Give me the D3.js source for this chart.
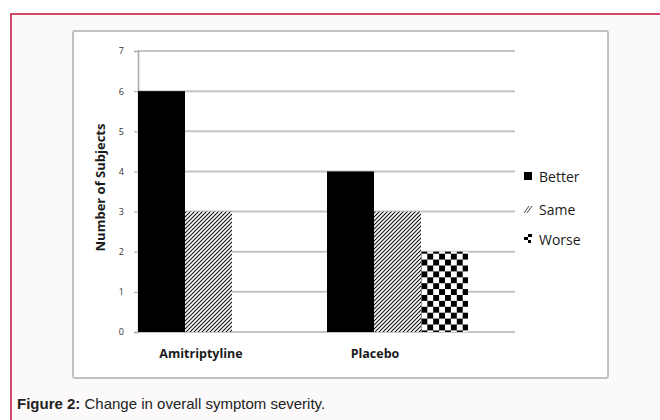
<!DOCTYPE html>
<html>
<head>
<meta charset="utf-8">
<script src="https://cdn.jsdelivr.net/npm/d3@7"></script>
<style>
  body { margin: 0; background: #fff; }
  svg { display: block; }
</style>
</head>
<body>
<svg id="chart" width="660" height="420"></svg>
<script>
// data
const groups = ["Amitriptyline", "Placebo"];
const series = ["Better", "Same", "Worse"];
const better = [6, 4];
const same = [3, 3];
const worse = [0, 2];
const yTicks = [0, 1, 2, 3, 4, 5, 6, 7];

const svg = d3.select("#chart");
const defs = svg.append("defs");

// hatch for "Same"
const hatch = defs.append("pattern")
    .attr("id", "hatch")
    .attr("patternUnits", "userSpaceOnUse")
    .attr("width", 4).attr("height", 4);
hatch.append("rect").attr("width", 4).attr("height", 4).attr("fill", "#fff");
hatch.append("path")
    .attr("d", "M-1,1 l2,-2 M0,4 l4,-4 M3,5 l2,-2")
    .attr("stroke", "#111").attr("stroke-width", 1.1);

// checkerboard for "Worse"
const cs = 5.9;
const checker = defs.append("pattern")
    .attr("id", "checker")
    .attr("patternUnits", "userSpaceOnUse")
    .attr("width", cs * 2).attr("height", cs * 2);
checker.append("rect").attr("width", cs * 2).attr("height", cs * 2).attr("fill", "#fff");
checker.append("rect").attr("width", cs).attr("height", cs).attr("fill", "#000");
checker.append("rect").attr("x", cs).attr("y", cs).attr("width", cs).attr("height", cs).attr("fill", "#000");

const fills = { Better: "#000", Same: "url(#hatch)", Worse: "url(#checker)" };

// outer frame
svg.append("rect")
    .attr("x", 11).attr("y", 14).attr("width", 660).attr("height", 420)
    .attr("fill", "#fbf9fa")
    .attr("stroke", "#c4103c").attr("stroke-width", 1.5);

// chart box
svg.append("rect")
    .attr("x", 73).attr("y", 31).attr("width", 535).attr("height", 347)
    .attr("rx", 2)
    .attr("fill", "#fff")
    .attr("stroke", "#c0c0c0").attr("stroke-width", 2);

const plotL = 138, plotR = 515, plotT = 51, plotB = 332;

const y = d3.scaleLinear().domain([0, 7]).range([plotB, plotT]);
const x0 = d3.scaleBand().domain(groups)
    .range([plotL, plotL + 378])
    .paddingInner(0.254).paddingOuter(0.127).align(0);
const x1 = d3.scaleBand().domain(series).range([0, x0.bandwidth()]);
// category labels sit a little left of the bar groups in the original
const xLabel = d3.scalePoint().domain(groups).range([201, 375]);

// gridlines
svg.append("g").selectAll("line")
    .data(yTicks.filter(d => d > 0))
    .join("line")
    .attr("x1", plotL).attr("x2", plotR)
    .attr("y1", d => y(d)).attr("y2", d => y(d))
    .attr("stroke", "#c4c4c4").attr("stroke-width", 2);

// y axis
const yAxis = svg.append("g")
    .attr("transform", `translate(${plotL},0)`)
    .call(d3.axisLeft(y).tickValues(yTicks).tickFormat(d3.format("d")).tickSize(4).tickPadding(10));
yAxis.select(".domain").attr("stroke", "#a8a8a8").attr("stroke-width", 1.5);
yAxis.selectAll(".tick line").attr("stroke", "#a8a8a8");
yAxis.selectAll("text")
    .attr("fill", "#333")
    .style("font-family", "'Open Sans', sans-serif")
    .style("font-size", "9px");

// baseline
svg.append("line")
    .attr("x1", plotL).attr("x2", plotR)
    .attr("y1", plotB).attr("y2", plotB)
    .attr("stroke", "#c4c4c4").attr("stroke-width", 2);

// bars
const rows = groups.map((g, i) => ({
    group: g,
    values: [
        { key: "Better", value: better[i] },
        { key: "Same", value: same[i] },
        { key: "Worse", value: worse[i] }
    ]
}));

svg.append("g").selectAll("g")
    .data(rows)
    .join("g")
    .attr("transform", d => `translate(${x0(d.group)},0)`)
    .selectAll("rect")
    .data(d => d.values.filter(v => v.value > 0))
    .join("rect")
    .attr("x", d => x1(d.key))
    .attr("y", d => y(d.value))
    .attr("width", x1.bandwidth())
    .attr("height", d => y(0) - y(d.value))
    .attr("fill", d => fills[d.key]);

// category labels
svg.append("g").selectAll("text")
    .data(groups)
    .join("text")
    .attr("x", d => xLabel(d))
    .attr("y", 358)
    .attr("text-anchor", "middle")
    .style("font-family", "'Open Sans', sans-serif")
    .style("font-size", "12.5px")
    .style("font-weight", "bold")
    .attr("fill", "#1a1a1a")
    .text(d => d);

// y label
svg.append("text")
    .attr("transform", `translate(105,${(plotT + plotB) / 2 - 4}) rotate(-90)`)
    .attr("text-anchor", "middle")
    .style("font-family", "'Open Sans', sans-serif")
    .style("font-size", "13px")
    .style("font-weight", "bold")
    .attr("fill", "#1a1a1a")
    .text("Number of Subjects");

// legend
const legend = svg.append("g").attr("transform", "translate(523,0)");
const ly = [177, 210, 240];
series.forEach((s, i) => {
    const g = legend.append("g").attr("transform", `translate(0,${ly[i]})`);
    if (s === "Better") {
        g.append("rect").attr("x", 1).attr("y", -5).attr("width", 8).attr("height", 8).attr("fill", "#000");
    } else if (s === "Same") {
        g.append("path")
            .attr("d", "M1,3 l5,-7 M4,3 l5,-7")
            .attr("stroke", "#444").attr("stroke-width", 1).attr("fill", "none");
    } else {
        g.append("rect").attr("x", 1).attr("y", -3).attr("width", 4).attr("height", 3).attr("fill", "#000");
        g.append("rect").attr("x", 5).attr("y", -6).attr("width", 4).attr("height", 3).attr("fill", "#000");
        g.append("rect").attr("x", 5).attr("y", 0).attr("width", 3).attr("height", 3).attr("fill", "#000");
    }
    g.append("text")
        .attr("x", 16).attr("y", 5)
        .style("font-family", "'Open Sans', sans-serif")
        .style("font-size", "14px")
        .attr("fill", "#1a1a1a")
        .text(s);
});

// caption
const cap = svg.append("text")
    .attr("x", 17).attr("y", 409)
    .style("font-family", "'Liberation Sans', Arial, sans-serif")
    .style("font-size", "15px")
    .attr("fill", "#222");
cap.append("tspan").style("font-weight", "bold").text("Figure 2:");
cap.append("tspan").text(" Change in overall symptom severity.");
</script>
</body>
</html>
